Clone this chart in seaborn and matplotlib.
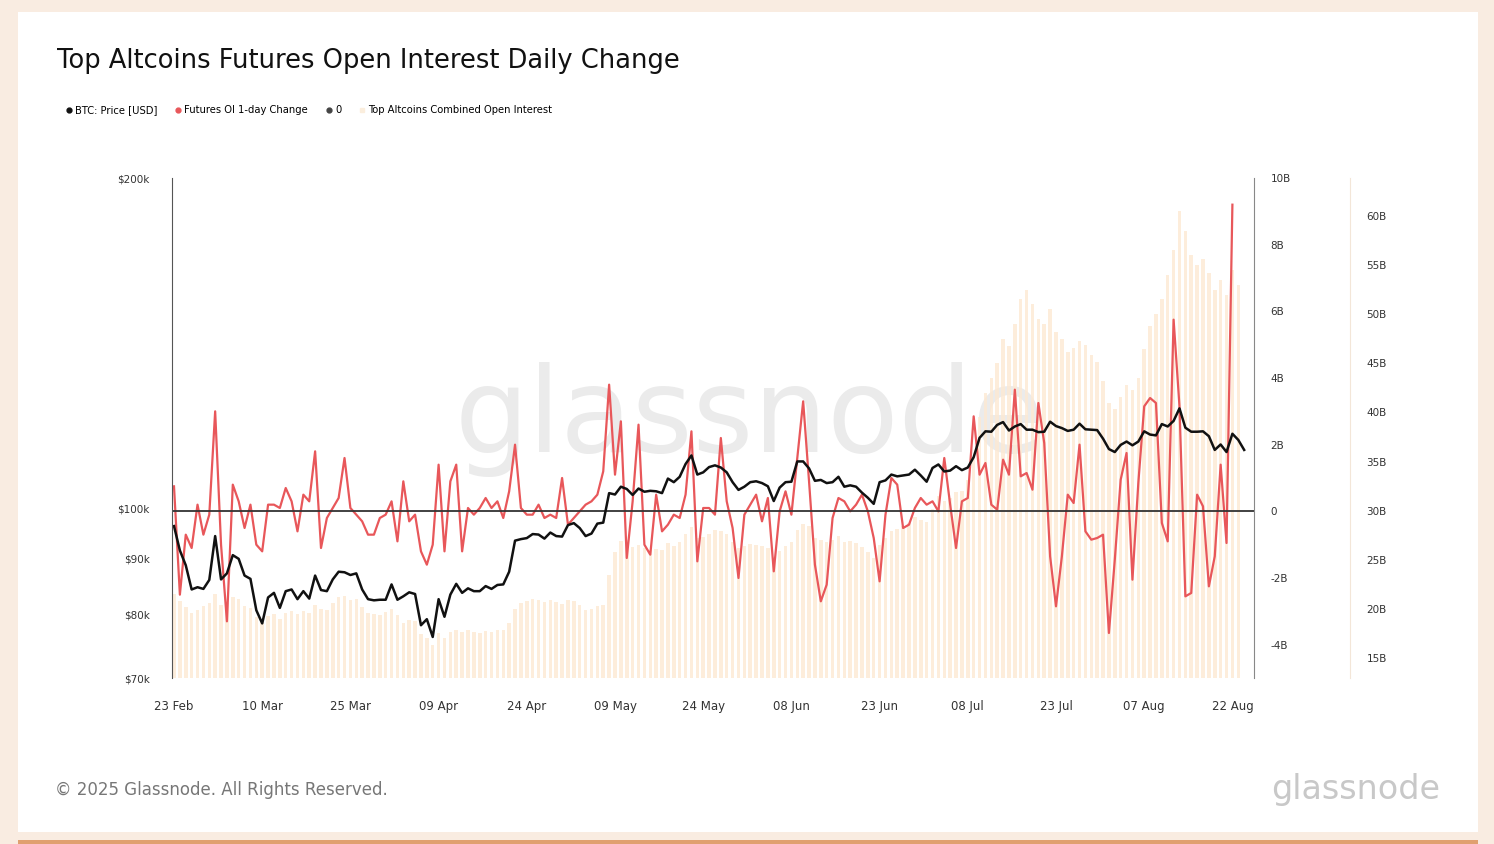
import numpy as np
import pandas as pd
import seaborn as sns
import matplotlib
matplotlib.use("Agg")
import matplotlib.pyplot as plt
from matplotlib.lines import Line2D
from matplotlib.patches import Rectangle

start_date = "2025-02-23"
btc_price_k = [96.3, 91.5, 88.7, 84.3, 84.7, 84.4,
    86.0, 94.3, 86.1, 87.2, 90.6, 89.9, 86.8, 86.2, 80.7, 78.5, 82.9, 83.7, 81.1, 84.0, 84.3, 82.6, 84.0, 82.7, 86.8, 84.2, 84.0, 86.1, 87.5, 87.4, 86.9, 87.2, 84.3, 82.6, 82.4, 82.5, 82.5,
    85.2, 82.5, 83.1, 83.8, 83.5, 78.2, 79.2, 76.3, 82.6, 79.6, 83.4, 85.3, 83.7, 84.5, 84.0, 84.0, 84.9, 84.4, 85.1, 85.2, 87.5, 93.4, 93.7, 93.9, 94.7, 94.6, 93.8, 95.0, 94.3, 94.2,
    96.5, 96.9, 95.9, 94.3, 94.8, 96.8, 97.0, 103.2, 102.9, 104.6, 104.1, 102.8, 104.2, 103.5, 103.7, 103.6, 103.2, 106.4, 105.6, 106.8, 109.7, 111.7, 107.3, 107.8, 109.0, 109.4, 108.9, 107.8, 105.6, 103.9, 104.6,
    105.6, 105.8, 105.4, 104.7, 101.5, 104.4, 105.6, 105.7, 110.3, 110.3, 108.7, 105.9, 106.1, 105.4, 105.6, 106.8, 104.6, 104.9, 104.6, 103.3, 102.2, 100.9, 105.6, 106.0, 107.3, 106.9, 107.1, 107.3, 108.4, 107.1,
    105.7, 108.8, 109.6, 108.0, 108.2, 109.2, 108.3, 108.9, 111.3, 115.9, 117.5, 117.4, 119.1, 119.8, 117.7, 118.7, 119.3, 117.9, 117.9, 117.3, 117.4, 119.9, 118.8, 118.3, 117.6, 117.9, 119.4, 118.0, 117.9, 117.8, 115.7,
    113.2, 112.5, 114.2, 115.0, 114.1, 115.0, 117.5, 116.7, 116.5, 119.3, 118.7, 120.1, 123.3, 118.4, 117.4, 117.4, 117.5, 116.3, 113.0, 114.3, 112.5, 116.9, 115.4, 113.0]

oi_change_b = [0.75, -2.5, -0.7, -1.1, 0.2, -0.7, -0.1, 3.0, -1.0, -3.3, 0.8, 0.3, -0.5, 0.2, -1.0, -1.2, 0.2, 0.2, 0.1, 0.7,
    0.3, -0.6, 0.5, 0.3, 1.8, -1.1, -0.2, 0.1, 0.4, 1.6, 0.1, -0.1, -0.3, -0.7, -0.7, -0.2, -0.1, 0.3, -0.9, 0.9,
    -0.3, -0.1, -1.2, -1.6, -1.0, 1.4, -1.2, 0.9, 1.4, -1.2, 0.1, -0.1, 0.1, 0.4, 0.1, 0.3, -0.2, 0.6, 2.0, 0.1,
    -0.1, -0.1, 0.2, -0.2, -0.1, -0.2, 1.0, -0.4, -0.2, 0.0, 0.2, 0.3, 0.5, 1.2, 3.8, 1.1, 2.7, -1.4, 0.3, 2.6,
    -1.0, -1.3, 0.5, -0.6, -0.4, -0.1, -0.2, 0.5, 2.4, -1.5, 0.1, 0.1, -0.1, 2.2, 0.3, -0.5, -2.0, -0.1, 0.2, 0.5,
    -0.3, 0.4, -1.8, 0.0, 0.6, -0.1, 1.6, 3.3, 0.9, -1.6, -2.7, -2.2, -0.2, 0.4, 0.3, 0.0, 0.2, 0.5, 0.0, -0.8,
    -2.1, -0.1, 1.0, 0.8, -0.5, -0.4, 0.1, 0.4, 0.2, 0.3, 0.0, 1.6, 0.2, -1.1, 0.3, 0.4,
    2.85, 1.1, 1.45, 0.2, 0.05, 1.55, 1.1, 3.65, 1.05, 1.15, 0.65, 3.25, 2.05, -1.35, -2.85, -1.35, 0.5, 0.25, 2.0, -0.6,
    -0.85, -0.8, -0.7, -3.65, -1.45, 0.95, 1.75, -2.05, 0.85, 3.15, 3.4, 3.25, -0.35, -0.9, 5.75, 3.15, -2.55, -2.45, 0.5, 0.15,
    -2.25, -1.35, 1.4, -0.95, 9.2]

alt_oi_b = [21.5, 20.8, 20.2, 19.6, 19.9, 20.3,
    20.6, 21.5, 20.4, 20.6, 21.2, 21.0, 20.3, 20.1, 19.2, 18.7, 19.3, 19.5, 19.0, 19.6, 19.8, 19.5, 19.8, 19.6, 20.4, 20.0, 19.9, 20.6, 21.2, 21.3, 20.9, 21.0, 20.2, 19.6, 19.5, 19.4, 19.7,
    20.0, 19.4, 18.6, 18.9, 18.8, 17.4, 17.0, 16.3, 17.5, 17.0, 17.6, 17.9, 17.6, 17.8, 17.6, 17.5, 17.7, 17.6, 17.8, 17.9, 18.6, 20.0, 20.6, 20.8, 21.0, 20.9, 20.7, 20.9, 20.7, 20.5,
    20.9, 20.8, 20.4, 19.9, 20.0, 20.3, 20.4, 23.5, 25.8, 26.9, 27.0, 26.3, 26.5, 26.2, 26.0, 26.1, 26.0, 26.7, 26.4, 26.8, 27.6, 28.3, 27.2, 27.3, 27.6, 28.0, 27.9, 27.6, 26.8, 26.2, 26.4,
    26.6, 26.5, 26.4, 26.2, 25.3, 25.9, 26.4, 26.8, 28.0, 28.6, 28.4, 27.2, 27.0, 26.8, 27.0, 27.4, 26.8, 26.9, 26.7, 26.3, 25.8, 25.2, 26.5, 27.2, 27.9, 28.1, 28.4, 28.7, 29.4, 29.1,
    28.8, 30.2, 31.5, 31.0, 31.3, 31.9, 32.0, 33.1, 35.4, 39.5, 42.0, 43.5, 45.0, 47.5, 46.8, 49.0, 51.5, 52.5, 51.0, 49.5, 49.0, 50.5, 48.2, 47.5, 46.2, 46.6, 47.3, 46.9, 45.8, 45.1, 43.2,
    41.0, 40.4, 41.6, 42.8, 42.3, 43.5, 46.5, 48.8, 50.0, 51.5, 54.0, 56.5, 60.5, 58.5, 56.0, 55.0, 55.6, 54.2, 52.5, 53.5, 52.0, 54.5, 53.0]

n = len(btc_price_k)
dates = pd.date_range(start_date, periods=n, freq="D")
day = np.arange(n)
df = pd.DataFrame({
    "day": day,
    "btc": np.array(btc_price_k) * 1000,
    "oi": np.array(oi_change_b + [np.nan] * (n - len(oi_change_b))),
    "alt": np.array(alt_oi_b + [np.nan] * (n - len(alt_oi_b))),
})

W, H = 1494, 844
fig = plt.figure(figsize=(W / 100, H / 100), dpi=100)
fig.patch.set_facecolor("#f9ece1")
fig.patches.append(Rectangle((18 / W, 12 / H), 1460 / W, 820 / H, transform=fig.transFigure,
                             facecolor="white", edgecolor="none", zorder=0))
fig.patches.append(Rectangle((18 / W, 0), 1460 / W, 4 / H, transform=fig.transFigure,
                             facecolor="#e0a070", edgecolor="none", zorder=0))

rect = [172 / W, 1 - 678 / H, (1254 - 172) / W, 500 / H]
ax_bar = fig.add_axes(rect)
ax_oi = fig.add_axes(rect, sharex=ax_bar)
ax_btc = fig.add_axes(rect, sharex=ax_bar)
for a, z in ((ax_bar, 1), (ax_oi, 2), (ax_btc, 3)):
    a.set_zorder(z)
    a.patch.set_visible(False)

px_day = 5.88
xlim = (-2 / px_day, (1254 - 174) / px_day)

ax_bar.bar(df["day"], df["alt"], width=0.6, color="#fde9d3", alpha=0.8, linewidth=0)
ax_bar.set_ylim(15 - 20 / 9.822, 60 + 38 / 9.822)
ax_bar.yaxis.tick_right()
ax_bar.spines["right"].set_position(("outward", 69))
ax_bar.set_yticks([15, 20, 25, 30, 35, 40, 45, 50, 55, 60])
ax_bar.set_yticklabels([f"{v}B" for v in [15, 20, 25, 30, 35, 40, 45, 50, 55, 60]])

sns.lineplot(data=df, x="day", y="oi", ax=ax_oi, color="#e8575a", linewidth=1.6)
ax_oi.axhline(0, color="#333333", linewidth=1.3)
ax_oi.set_ylim(-5, 10)
ax_oi.yaxis.tick_right()
ax_oi.set_yticks([-4, -2, 0, 2, 4, 6, 8, 10])
ax_oi.set_yticklabels(["-4B", "-2B", "0", "2B", "4B", "6B", "8B", "10B"])

sns.lineplot(data=df, x="day", y="btc", ax=ax_btc, color="#111111", linewidth=1.8)
ax_btc.set_yscale("log")
ax_btc.set_ylim(70000, 200000)
ax_btc.set_yticks([70000, 80000, 90000, 100000, 200000])
ax_btc.set_yticklabels(["$70k", "$80k", "$90k", "$100k", "$200k"])
ax_btc.yaxis.set_minor_locator(matplotlib.ticker.NullLocator())

for a in (ax_bar, ax_oi, ax_btc):
    a.set_xlim(*xlim)
    a.set_xlabel("")
    a.set_ylabel("")
    for s in a.spines.values():
        s.set_visible(False)
    a.tick_params(length=0, labelsize=7.5, colors="#333333")

ax_btc.spines["left"].set_visible(True)
ax_btc.spines["left"].set_color("#555555")
ax_oi.spines["right"].set_visible(True)
ax_oi.spines["right"].set_color("#888888")
ax_bar.spines["right"].set_visible(True)
ax_bar.spines["right"].set_color("#f3e6d8")
ax_btc.tick_params(axis="y", pad=16)
ax_oi.tick_params(axis="y", pad=12)
ax_bar.tick_params(axis="y", pad=12)
ax_bar.spines["right"].set_position(("outward", 69))

ticks = list(range(0, n, 15))
ax_btc.set_xticks(ticks)
ax_btc.set_xticklabels([dates[i].strftime("%d %b") for i in ticks])
ax_btc.tick_params(axis="x", labelsize=8.5, pad=16)
ax_oi.tick_params(axis="x", labelbottom=False)
ax_bar.tick_params(axis="x", labelbottom=False)

fig.text(750 / W, 1 - 420 / H, "glassnode", fontsize=84, color="#ebebeb", ha="center", va="center",
         zorder=0.5)

fig.text(57 / W, 1 - 61 / H, "Top Altcoins Futures Open Interest Daily Change", fontsize=18.5,
         color="#111111", va="center", ha="left")
handles = [
    Line2D([], [], marker="o", color="#111111", linestyle="", markersize=3.5, label="BTC: Price [USD]"),
    Line2D([], [], marker="o", color="#e8575a", linestyle="", markersize=3.5, label="Futures OI 1-day Change"),
    Line2D([], [], marker="o", color="#444444", linestyle="", markersize=3.5, label="0"),
    Line2D([], [], marker="s", color="#fbeedd", linestyle="", markersize=3.5, label="Top Altcoins Combined Open Interest"),
]
fig.legend(handles=handles, loc="center left", bbox_to_anchor=(55 / W, 1 - 110 / H), ncol=4,
           frameon=False, fontsize=7.2, handletextpad=0.1, columnspacing=1.6, handlelength=1)

fig.text(55 / W, 1 - 790 / H, "© 2025 Glassnode. All Rights Reserved.", fontsize=12, color="#777777",
         va="center")
fig.text(1440 / W, 1 - 790 / H, "glassnode", fontsize=24, color="#c8c8c8", va="center", ha="right")

fig.savefig("out.png", dpi=100, facecolor=fig.get_facecolor())
